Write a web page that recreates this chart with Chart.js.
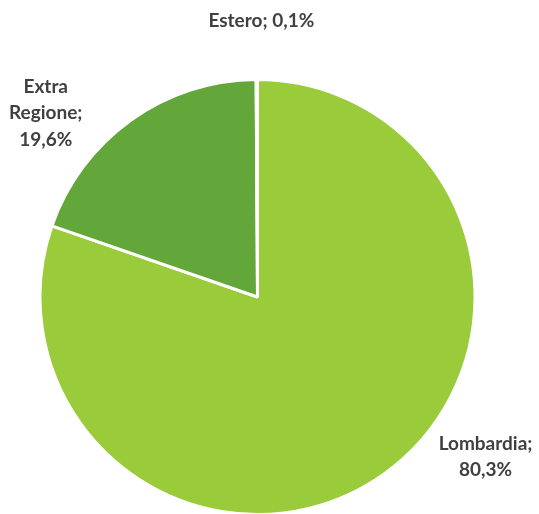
<!DOCTYPE html>
<html>
<head>
<meta charset="utf-8">
<script src="https://cdn.jsdelivr.net/npm/chart.js@4.4.1/dist/chart.umd.min.js"></script>
<style>
  html, body { margin: 0; padding: 0; background: #fff; overflow: hidden; }
  #wrap { width: 539px; height: 516px; }
</style>
</head>
<body>
<div id="wrap"><canvas id="pieChart" width="539" height="516"></canvas></div>
<script>
const categories = ['Lombardia', 'Extra Regione', 'Estero'];
const values = [80.3, 19.6, 0.1];
const valueLabels = ['80,3%', '19,6%', '0,1%'];
const sliceColors = ['#9acb3a', '#63a63a', '#4f7fbd'];

// where each label sits: angle in degrees clockwise from top, distance as multiple of radius
const labelPlace = [
    { angle: 125, dist: 1.28, lines: ['Lombardia;', valueLabels[0]] },
    { angle: 311, dist: 1.29, lines: ['Extra', 'Regione;', valueLabels[1]] },
    { angle: 0.8, dist: 1.27, lines: [categories[2] + '; ' + valueLabels[2]] }
];

const outsideLabels = {
    id: 'outsideLabels',
    afterDraw(chart) {
        const ctx = chart.ctx;
        const meta = chart.getDatasetMeta(0);
        ctx.save();
        ctx.font = 'bold 19px Lato, "Open Sans", sans-serif';
        ctx.fillStyle = '#404040';
        ctx.textAlign = 'center';
        ctx.textBaseline = 'middle';
        meta.data.forEach((arc, i) => {
            const p = labelPlace[i];
            const a = p.angle * Math.PI / 180;
            const cx = arc.x + Math.sin(a) * arc.outerRadius * p.dist;
            const cy = arc.y - Math.cos(a) * arc.outerRadius * p.dist;
            const lh = 26.5;
            const top = cy - (p.lines.length - 1) * lh / 2;
            p.lines.forEach((t, j) => ctx.fillText(t, cx, top + j * lh));
        });
        ctx.restore();
    }
};

new Chart(document.getElementById('pieChart').getContext('2d'), {
    type: 'pie',
    data: {
        labels: categories,
        datasets: [{
            data: values,
            backgroundColor: sliceColors,
            borderColor: '#ffffff',
            borderWidth: 3
        }]
    },
    options: {
        responsive: false,
        animation: false,
        layout: { padding: { top: 78, bottom: 0, left: 38, right: 62 } },
        plugins: {
            legend: { display: false },
            tooltip: { enabled: false }
        }
    },
    plugins: [outsideLabels]
});
</script>
</body>
</html>
